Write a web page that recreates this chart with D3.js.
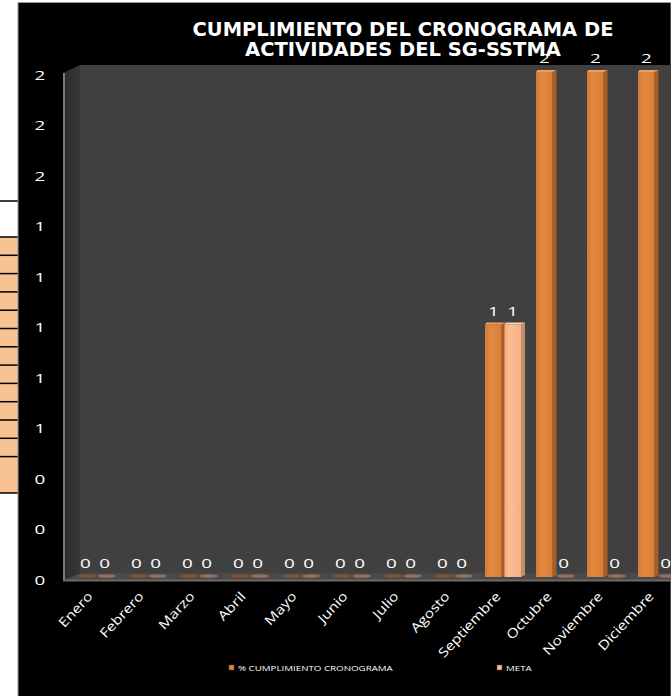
<!DOCTYPE html>
<html>
<head>
<meta charset="utf-8">
<script src="https://cdn.jsdelivr.net/npm/d3@7"></script>
<style>
  html, body { margin: 0; padding: 0; background: #fff; }
  svg { display: block; }
</style>
</head>
<body>
<div id="chart"></div>
<script>
// chart data
var months = ["Enero", "Febrero", "Marzo", "Abril", "Mayo", "Junio", "Julio",
              "Agosto", "Septiembre", "Octubre", "Noviembre", "Diciembre"];
var seriesNames = ["% CUMPLIMIENTO CRONOGRAMA", "META"];
var cumplimiento = [0, 0, 0, 0, 0, 0, 0, 0, 1, 2, 2, 2];
var meta = [0, 0, 0, 0, 0, 0, 0, 0, 1, 0, 0, 0];
var yTicks = [0, 0.2, 0.4, 0.6, 0.8, 1, 1.2, 1.4, 1.6, 1.8, 2];
var titleLines = ["CUMPLIMIENTO DEL CRONOGRAMA DE", "ACTIVIDADES DEL SG-SSTMA"];

var W = 671, H = 696;

var svg = d3.select("#chart").append("svg")
    .attr("width", W)
    .attr("height", H);

var defs = svg.append("defs");

// gradients for bar faces
function hGrad(id, stops) {
  var g = defs.append("linearGradient").attr("id", id)
      .attr("x1", "0%").attr("x2", "100%").attr("y1", "0%").attr("y2", "0%");
  stops.forEach(function(s) {
    g.append("stop").attr("offset", s[0]).attr("stop-color", s[1]);
  });
}
hGrad("g0", [["0%", "#d27a36"], ["35%", "#e38a40"], ["100%", "#d87d35"]]);
hGrad("g1", [["0%", "#f2ac80"], ["35%", "#fcbd93"], ["100%", "#f4b086"]]);
hGrad("wall", [["0%", "#2c2c2c"], ["100%", "#363636"]]);

var colors = {
  front: ["url(#g0)", "url(#g1)"],
  side: ["#a85f27", "#c68c67"],
  top: ["#eda061", "#ffd2b4"],
  flat: ["#86522c", "#94705f"],
  legend: ["#e0853b", "#fab88e"]
};

// spreadsheet strip on the left
svg.append("rect").attr("x", 0).attr("y", 0).attr("width", 18).attr("height", H).attr("fill", "#fff");
svg.append("rect").attr("x", 0).attr("y", 237).attr("width", 18).attr("height", 256).attr("fill", "#f9c294");
var cellLines = d3.range(13).map(function(i) { return 237 + i * 18.3; }).concat([201, 493]);
svg.selectAll(".cell-line").data(cellLines).enter().append("line")
    .attr("class", "cell-line")
    .attr("x1", 0).attr("x2", 18)
    .attr("y1", function(d) { return d; }).attr("y2", function(d) { return d; })
    .attr("stroke", "#000").attr("stroke-width", 1.5);

// chart area background
svg.append("rect").attr("x", 18).attr("y", 2.5).attr("width", W - 18).attr("height", H)
    .attr("fill", "#000").attr("stroke", "#9a9a9a").attr("stroke-width", 1);

// scales
var x = d3.scaleBand().domain(months).range([70, 682]).padding(0);
var xSub = d3.scaleBand().domain([0, 1])
    .range([x.bandwidth() / 2 - 18.5, x.bandwidth() / 2 + 18.5]).paddingInner(0.1);
var y = d3.scaleLinear().domain([0, 2]).range([577, 72]);
var depth = 4;

// 3D walls
var wallTop = 65, wallLeft = 80, floorY = 580;
svg.append("rect").attr("x", wallLeft).attr("y", wallTop)
    .attr("width", W - wallLeft).attr("height", 573 - wallTop).attr("fill", "#404040");
svg.append("polygon")
    .attr("points", [[63, 73], [wallLeft, wallTop], [wallLeft, 573], [63, floorY]].join(" "))
    .attr("fill", "url(#wall)");
svg.append("polygon")
    .attr("points", [[63, floorY], [wallLeft, 573], [W, 573], [W, floorY]].join(" "))
    .attr("fill", "#4a4a4a");
svg.append("line").attr("x1", 64).attr("x2", 64).attr("y1", 73).attr("y2", floorY + 1)
    .attr("stroke", "#7a7a7a").attr("stroke-width", 2);
svg.append("line").attr("x1", 63).attr("x2", W).attr("y1", floorY + 0.5).attr("y2", floorY + 0.5)
    .attr("stroke", "#6a6a6a").attr("stroke-width", 2);

// y axis labels
var fmt = d3.format(".0f");
svg.selectAll(".ytick").data(yTicks).enter().append("text")
    .attr("class", "ytick")
    .attr("transform", function(d) { return "translate(40," + (y(d) + 7.5) + ") scale(1.45,1)"; })
    .attr("text-anchor", "middle")
    .attr("fill", "#fff")
    .style("font-family", "'Open Sans', sans-serif")
    .style("font-size", "13px")
    .text(function(d) { return fmt(d); });

// bars
var rows = [];
months.forEach(function(m, i) {
  rows.push({ month: m, s: 0, v: cumplimiento[i] });
  rows.push({ month: m, s: 1, v: meta[i] });
});

var bar = svg.selectAll(".bar").data(rows).enter().append("g").attr("class", "bar");

bar.each(function(d) {
  var g = d3.select(this);
  var x0 = x(d.month) + xSub(d.s);
  var w = xSub.bandwidth() - 1;
  var base = y(0), top = y(d.v);
  if (d.v > 0) {
    g.append("polygon")
        .attr("points", [[x0 + w, top], [x0 + w + depth, top - 2], [x0 + w + depth, base - 2], [x0 + w, base]].join(" "))
        .attr("fill", colors.side[d.s]);
    g.append("rect")
        .attr("x", x0).attr("y", top).attr("width", w).attr("height", base - top)
        .attr("fill", colors.front[d.s]);
    g.append("polygon")
        .attr("points", [[x0, top], [x0 + 1.5, top - 2], [x0 + w + depth, top - 2], [x0 + w, top]].join(" "))
        .attr("fill", colors.top[d.s]);
  } else {
    g.append("ellipse")
        .attr("cx", x0 + w / 2 + 2).attr("cy", base - 1)
        .attr("rx", w / 2 + 1).attr("ry", 1.8)
        .attr("fill", colors.flat[d.s]);
  }
  g.append("text")
      .attr("transform", "translate(" + (x0 + w / 2) + "," + (top - 9) + ") scale(1.45,1)")
      .attr("text-anchor", "middle")
      .attr("fill", "#fff")
      .style("font-family", "'Open Sans', sans-serif")
      .style("font-size", "13px")
      .text(d.v);
});

// x axis labels, rotated and widened along the baseline
svg.selectAll(".xlab").data(months).enter().append("text")
    .attr("class", "xlab")
    .attr("transform", function(d) {
      return "translate(" + (x(d) + x.bandwidth() / 2 - 2) + ",597) rotate(-47) scale(1.2,1)";
    })
    .attr("text-anchor", "end")
    .attr("fill", "#fff")
    .style("font-family", "'Open Sans', sans-serif")
    .style("font-size", "13px")
    .text(function(d) { return d; });

// title
svg.selectAll(".title").data(titleLines).enter().append("text")
    .attr("class", "title")
    .attr("x", 403)
    .attr("y", function(d, i) { return 36 + i * 20; })
    .attr("text-anchor", "middle")
    .attr("fill", "#fff")
    .style("font-family", "'DejaVu Sans', sans-serif")
    .style("font-weight", "bold")
    .style("font-size", "19.5px")
    .text(function(d) { return d; });

// legend
var legendX = [229, 497];
var leg = svg.selectAll(".legend").data(seriesNames).enter().append("g")
    .attr("class", "legend")
    .attr("transform", function(d, i) { return "translate(" + legendX[i] + ",668)"; });
leg.append("rect").attr("x", 0).attr("y", -3).attr("width", 5).attr("height", 5)
    .attr("fill", function(d, i) { return colors.legend[i]; })
    .attr("stroke", "#6b4a33").attr("stroke-width", 0.5);
leg.append("text")
    .attr("transform", "translate(9,2.5) scale(1.22,1)")
    .attr("fill", "#fff")
    .style("font-family", "'Open Sans', sans-serif")
    .style("font-size", "8px")
    .text(function(d) { return d; });
</script>
</body>
</html>
